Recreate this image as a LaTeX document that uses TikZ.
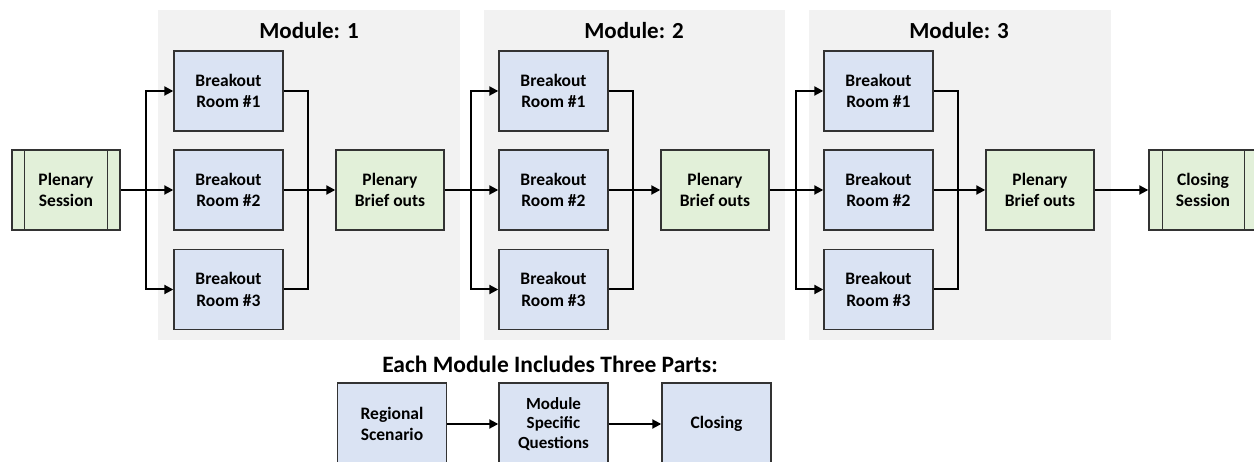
\documentclass[tikz,border=0pt]{standalone}
\usepackage{fontspec}
\setmainfont{Carlito}
\usetikzlibrary{arrows.meta,calc}
\definecolor{boxblue}{HTML}{DAE3F3}
\definecolor{boxgreen}{HTML}{E2F0D9}
\definecolor{modgray}{HTML}{F2F2F2}
\definecolor{edge}{HTML}{333333}
\tikzset{
  room/.style={draw=edge, line width=1.4pt, fill=boxblue, minimum width=109pt, minimum height=80pt, inner sep=0pt, align=center, font=\fontsize{17.5}{21.5}\selectfont\bfseries},
  green/.style={room, fill=boxgreen},
  part/.style={room, minimum height=82pt},
  parttxt/.style={font=\fontsize{17}{19.5}\selectfont\bfseries},
  conn/.style={line width=2pt, black},
  arr/.style={conn, -{Triangle[length=9pt,width=9pt]}},
  modbg/.style={fill=modgray, draw=none},
  modtitle/.style={font=\fontsize{23}{27}\selectfont\bfseries},
}
\begin{document}
\begin{tikzpicture}[x=1pt,y=-1pt]
\useasboundingbox (0,0) rectangle (1254,462);
% module backgrounds
\fill[modgray] (158,10) rectangle (460,340);
\fill[modgray] (484,10) rectangle (785,340);
\fill[modgray] (809,10) rectangle (1111,340);
\node[modtitle] (t1) at (309,31) {Module: 1};
\node[modtitle] (t2) at (634,31) {Module: 2};
\node[modtitle] (t3) at (959,31) {Module: 3};
% plenary session
\node[green, minimum width=108pt] (ps) at (66,190) {Plenary\\Session};
\draw[edge, line width=1.4pt] ([xshift=13pt]ps.north west) -- ([xshift=13pt]ps.south west);
\draw[edge, line width=1.4pt] ([xshift=-13pt]ps.north east) -- ([xshift=-13pt]ps.south east);
% modules
\foreach \k/\d in {1/0,2/325,3/650}{
  \node[room] (r\k a) at (228.5+\d,91) {Breakout\\Room \#1};
  \node[room] (r\k b) at (228.5+\d,190) {Breakout\\Room \#2};
  \node[room] (r\k c) at (228.5+\d,289.5) {Breakout\\Room \#3};
  \node[green, minimum width=108pt] (bo\k) at (390+\d,190) {Plenary\\Brief outs};
  \coordinate (s\k) at (146+\d,190);
  \coordinate (m\k) at (308+\d,190);
  \draw[arr] (s\k) |- (r\k a.west);
  \draw[arr] (s\k) |- (r\k c.west);
  \draw[conn] (r\k a.east) -| (m\k) |- (r\k c.east);
  \draw[arr] (r\k b.east) -- (bo\k.west);
}
\draw[arr] (ps.east) -- (r1b.west);
\draw[arr] (bo1.east) -- (r2b.west);
\draw[arr] (bo2.east) -- (r3b.west);
% closing session
\node[green, minimum width=108pt] (cs) at (1203,190) {Closing\\Session};
\draw[edge, line width=1.4pt] ([xshift=14pt]cs.north west) -- ([xshift=14pt]cs.south west);
\draw[edge, line width=1.4pt] ([xshift=-13pt]cs.north east) -- ([xshift=-13pt]cs.south east);
\draw[arr] (bo3.east) -- (cs.west);
% bottom legend
\node[font=\fontsize{23.5}{27}\selectfont\bfseries] (lt) at (550,364) {Each Module Includes Three Parts:};
\node[part] (p1) at (392,424) {Regional\\Scenario};
\node[part, parttxt] (p2) at (553.5,424) {Module\\Specific\\Questions};
\node[part] (p3) at (716.5,424) {Closing};
\draw[arr] (p1.east) -- (p2.west);
\draw[arr] (p2.east) -- (p3.west);
\end{tikzpicture}
\end{document}
